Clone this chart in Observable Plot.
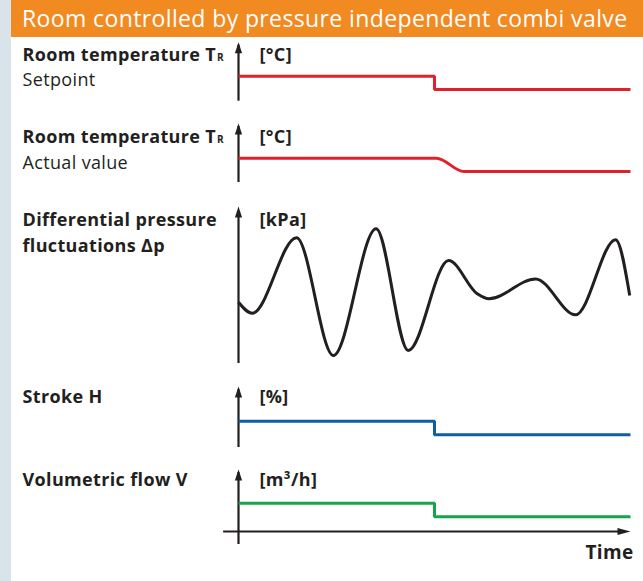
<!DOCTYPE html>
<html>
<head>
<meta charset="utf-8">
<script src="https://cdn.jsdelivr.net/npm/d3@7"></script>
<script src="https://cdn.jsdelivr.net/npm/@observablehq/plot@0.6"></script>
<style>
  html, body { margin: 0; padding: 0; background: #fff; }
  #root { position: relative; width: 643px; height: 581px; overflow: hidden; background: #fff; font-family: "Open Sans", sans-serif; }
  #strip { position: absolute; left: 0; top: 0; width: 11px; height: 581px; background: #d9e3ea; }
  #header { position: absolute; left: 11px; top: 0; width: 632px; height: 37px; background: #f28a22; color: #fff;
            font-size: 23px; letter-spacing: 0.38px; line-height: 37px; padding-left: 11px; box-sizing: border-box; white-space: nowrap; }
  #plots { position: absolute; left: 0; top: 37px; width: 643px; }
  #plots svg { display: block; }
</style>
</head>
<body>
<div id="root">
  <div id="strip"></div>
  <div id="header"></div>
  <div id="plots"></div>
</div>
<script>
// ---------- text ----------
const title = "Room controlled by pressure independent combi valve";
const panelLabels = [
  ["Room temperature T", "Setpoint"],
  ["Room temperature T", "Actual value"],
  ["Differential pressure", "fluctuations Δp"],
  ["Stroke H"],
  ["Volumetric flow V"]
];
const units = ["[°C]", "[°C]", "[kPa]", "[%]", "[m³/h]"];
const timeLabel = "Time";

// ---------- data (time 0..10, level 0..10 per panel) ----------
const stepTime = [0, 5, 10];
const setpointValue = [4.24, 1.98, 1.98];
const actualTime = [0, 5.05, 5.75, 10];
const actualValue = [4.12, 4.12, 1.86, 1.86];
const pressureTime  = [0, 0.35, 1.48, 2.42, 3.51, 4.33, 5.36, 6.09, 6.39, 7.58, 8.60, 9.62, 9.98];
const pressureValue = [3.90, 3.20, 8.01, 0.51, 8.58, 0.83, 6.56, 4.44, 4.12, 5.39, 3.10, 7.88, 4.33];
const strokeValue = [4.31, 2.08, 2.08];
const flowValue = [4.56, 2.37, 2.37];

// ---------- styling ----------
const INK = "#231f20";
const RED = "#e3202a";
const BLUE = "#0a5fa6";
const GREEN = "#14a44b";
const FONT = "'Open Sans', sans-serif";
const labelWeights = [["bold", "normal"], ["bold", "normal"], ["bold", "bold"], ["bold"], ["bold"]];

document.getElementById("header").textContent = title;

const rows = (xs, ys) => xs.map((t, i) => ({t, v: ys[i]}));

// layout for each panel: svg height, y range (bottom of axis, arrow tip), axis bottom value, label baselines
const layout = [
  {height: 73,  range: [63.7, 4.7], axisBottom: 0,    base: [23, 48]},
  {height: 85,  range: [72, 13],    axisBottom: 0,    base: [32.7, 58]},
  {height: 177, range: [168, 11],   axisBottom: 0,    base: [30, 56]},
  {height: 83,  range: [75, 14],    axisBottom: 0,    base: [30]},
  {height: 126, range: [76, 14],    axisBottom: -2.1, base: [30]}
];

const series = [
  {data: rows(stepTime, setpointValue), color: RED, curve: "step-after"},
  {data: rows(actualTime, actualValue), color: RED, curve: "monotone-x"},
  {data: rows(pressureTime, pressureValue), color: INK, curve: "monotone-x"},
  {data: rows(stepTime, strokeValue), color: BLUE, curve: "step-after"},
  {data: rows(stepTime, flowValue), color: GREEN, curve: "step-after"}
];

const container = document.getElementById("plots");

series.forEach((s, i) => {
  const L = layout[i];
  const marks = [
    // vertical axis
    Plot.ruleX([0], {y1: L.axisBottom, y2: 9.5, stroke: INK, strokeWidth: 2.2}),
    Plot.vector([{t: 0, v: 10}], {x: "t", y: "v", shape: "spike", anchor: "end", length: 11, r: 3.6,
      fill: INK, stroke: null}),
    // series
    Plot.line(s.data, {x: "t", y: "v", curve: s.curve, stroke: s.color, strokeWidth: 3,
      strokeLinejoin: "miter", strokeLinecap: "butt"}),
    // unit label
    Plot.text([units[i]], {frameAnchor: "top-left", dx: 21, dy: L.base[0], textAnchor: "start",
      lineAnchor: "bottom", fontSize: 18, fontWeight: "bold", fill: INK})
  ];
  panelLabels[i].forEach((lab, j) => {
    marks.push(Plot.text([lab], {frameAnchor: "top-left", dx: -216, dy: L.base[j], textAnchor: "start",
      lineAnchor: "bottom", fontSize: 18, fontWeight: labelWeights[i][j], fill: INK}));
  });
  if (i === series.length - 1) {
    // time axis
    marks.push(Plot.ruleY([0], {x1: -0.38, x2: 9.7, stroke: INK, strokeWidth: 2.2}));
    marks.push(Plot.vector([{t: 10, v: 0}], {x: "t", y: "v", shape: "spike", anchor: "end", rotate: 90,
      length: 13, r: 3.6, fill: INK, stroke: null}));
    marks.push(Plot.text([timeLabel], {frameAnchor: "top-left", dx: 395, dy: 103, textAnchor: "end",
      lineAnchor: "bottom", fontSize: 19, fontWeight: "bold", fill: INK}));
  }
  const chart = Plot.plot({
    width: 643, height: L.height,
    marginLeft: 238, marginRight: 13, marginTop: 0, marginBottom: 0,
    x: {domain: [0, 10], axis: null},
    y: {domain: [0, 10], range: L.range, axis: null},
    style: {background: "transparent", overflow: "visible", fontFamily: FONT, color: INK, letterSpacing: "0.35px"},
    marks
  });
  // subscript R for T_R
  chart.querySelectorAll("text").forEach(t => {
    if (t.textContent === "Room temperature T") {
      const ts = document.createElementNS("http://www.w3.org/2000/svg", "tspan");
      ts.setAttribute("font-size", "10");
      ts.setAttribute("dx", "1");
      ts.textContent = "R";
      t.appendChild(ts);
    }
  });
  container.appendChild(chart);
});
</script>
</body>
</html>
